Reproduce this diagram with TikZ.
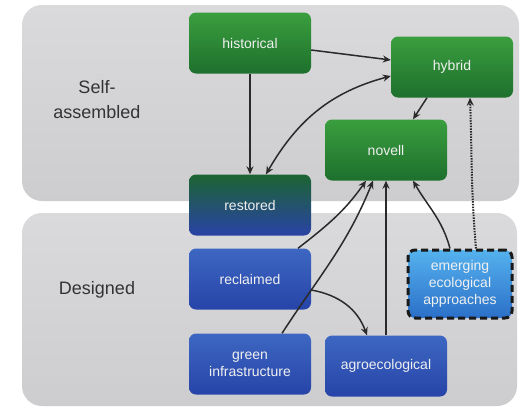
\documentclass[tikz,border=0pt]{standalone}
\usepackage{fontspec}
\setmainfont{Liberation Sans}
\usetikzlibrary{arrows.meta,shadings}
\definecolor{gTop}{HTML}{3A9E3E}
\definecolor{gBot}{HTML}{1E702D}
\definecolor{rTop}{HTML}{1C6432}
\definecolor{rMid}{HTML}{0F4C5C}
\definecolor{rBot}{HTML}{2A42A6}
\definecolor{bTop}{HTML}{3D67C2}
\definecolor{bBot}{HTML}{2744A8}
\definecolor{eTop}{HTML}{55B2EE}
\definecolor{eBot}{HTML}{2B6FC8}
\definecolor{pTop}{HTML}{DADADC}
\definecolor{pBot}{HTML}{CDCDCF}
\definecolor{arrc}{HTML}{2A2A2A}
\begin{document}
\begin{tikzpicture}[x=1pt,y=-1pt,
  box/.style={rounded corners=7pt, minimum width=122pt, minimum height=61pt, inner sep=0pt,
    align=center, text=white!88!gray, font=\fontsize{14}{17}\selectfont},
  greenbox/.style={box, top color=gTop, bottom color=gBot},
  bluebox/.style={box, top color=bTop, bottom color=bBot},
  restbox/.style={box, top color=rTop, middle color=rMid, bottom color=rBot},
  emergebox/.style={box, minimum width=104pt, minimum height=68pt, top color=eTop, bottom color=eBot,
    draw=black!90, line width=3pt, dash pattern=on 7pt off 4pt},
  panel/.style={rounded corners=20pt, top color=pTop, bottom color=pBot},
  lbl/.style={align=center, text=black!80, font=\fontsize{18}{25}\selectfont},
  arr/.style={draw=arrc, line width=1.5pt, -{Stealth[length=8pt,width=7pt]}},
  darr/.style={draw=arrc, line width=1.5pt, {Stealth[length=8pt,width=7pt]}-{Stealth[length=8pt,width=7pt]}},
  dotarr/.style={arr, line width=2pt, dash pattern=on 1.5pt off 1.2pt}
]
\useasboundingbox (0,0) rectangle (529,408);
\fill[white] (0,0) rectangle (529,408);
\shade[panel] (22,5) rectangle (519,201);
\shade[panel] (22,213) rectangle (517,406);

\node[lbl] (selfl) at (97,100) {Self-\\assembled};
\node[lbl] (designl) at (97,290) {Designed};

\node[greenbox] (historical) at (250,43) {historical};
\node[greenbox] (hybrid) at (452,67) {hybrid};
\node[greenbox] (novell) at (386,150) {novell};
\node[restbox] (restored) at (250,205) {restored};
\node[bluebox] (reclaimed) at (250,279) {reclaimed};
\node[bluebox] (green) at (250,364) {green\\infrastructure};
\node[bluebox] (agro) at (386,366) {agroecological};
\node[emergebox] (emerging) at (460,284) {emerging\\ecological\\approaches};

\draw[arr] ([yshift=-7pt]historical.east) -- ([yshift=7pt]hybrid.west);
\draw[arr] (historical.south) -- (restored.north);
\draw[darr] ([yshift=-9pt]hybrid.west) to[out=195, in=60] ([xshift=16pt]restored.north);
\draw[arr] ([xshift=-25pt]hybrid.south) -- ([xshift=27pt]novell.north);
\draw[arr] ([xshift=48pt]reclaimed.north) to[out=38, in=235] ([xshift=-20pt]novell.south);
\draw[arr] ([xshift=32pt]green.north) to[out=57, in=248] ([xshift=-13pt]novell.south);
\draw[arr] (agro.north) -- (novell.south);
\draw[arr] ([xshift=-10pt]emerging.north) to[out=105, in=300] ([xshift=27pt]novell.south);
\draw[dotarr] ([xshift=16pt]emerging.north) to[out=95, in=272] ([xshift=18pt]hybrid.south);
\draw[arr] ([yshift=-11pt]reclaimed.east) to[out=-10, in=110] ([xshift=-19pt]agro.north);
\end{tikzpicture}
\end{document}
